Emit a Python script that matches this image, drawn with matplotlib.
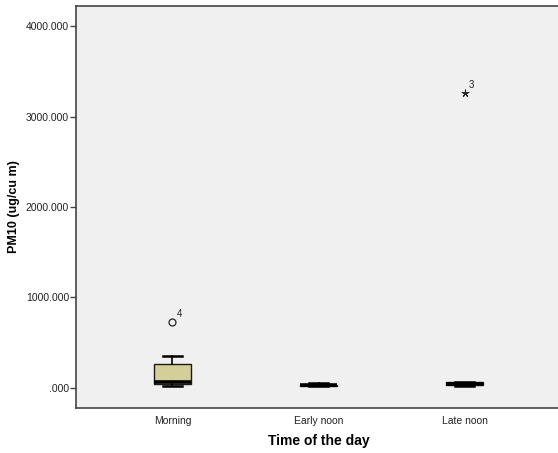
import matplotlib
matplotlib.use("Agg")
import matplotlib.pyplot as plt
from matplotlib.ticker import FuncFormatter

plt.rcParams['font.family'] = ['Liberation Sans', 'DejaVu Sans']

categories = ["Morning", "Early noon", "Late noon"]
whisker_low = [25, 20, 25]
q1 = [41, 25, 28]
median = [63, 32, 45]
q3 = [265, 38, 68]
whisker_high = [354, 50, 70]
outlier_vals = [[733], [], []]
outlier_ids = [["4"], [], []]
extreme_vals = [[], [], [3265]]
extreme_ids = [[], [], ["3"]]

fig = plt.figure(figsize=(5.58, 4.53), dpi=100)
fig.patch.set_facecolor("white")
ax = fig.add_axes([76 / 558, 1 - 408 / 453, (561 - 76) / 558, (408 - 6) / 453])
ax.set_facecolor("#F0F0F0")

stats = []
for i, name in enumerate(categories):
    stats.append(dict(label=name, whislo=whisker_low[i], q1=q1[i], med=median[i],
                      q3=q3[i], whishi=whisker_high[i], fliers=[]))

positions = list(range(len(categories)))
ax.bxp(stats, positions=positions, widths=0.25, patch_artist=True, showfliers=False,
       boxprops=dict(facecolor="#D4CF98", edgecolor="#1a1a1a", linewidth=1.0),
       medianprops=dict(color="black", linewidth=2.6),
       whiskerprops=dict(color="black", linewidth=1.2),
       capprops=dict(color="black", linewidth=1.8),
       capwidths=0.125)

for i in positions:
    for v, lab in zip(outlier_vals[i], outlier_ids[i]):
        ax.plot(i, v, marker="o", markersize=5, markerfacecolor="none",
                markeredgecolor="#222222", markeredgewidth=0.9, linestyle="none")
        ax.annotate(lab, (i, v), xytext=(3, 3), textcoords="offset points",
                    fontsize=7, color="#222222")
    for v, lab in zip(extreme_vals[i], extreme_ids[i]):
        ax.plot(i, v, marker=(5, 2, 0), markersize=5.5, markeredgewidth=0.8,
                color="#222222", linestyle="none")
        ax.annotate(lab, (i, v), xytext=(3, 3), textcoords="offset points",
                    fontsize=7, color="#222222")

ax.set_xlim(-0.66, 2.66)
ax.set_ylim(-221, 4221)
ax.set_yticks([0, 1000, 2000, 3000, 4000])
ax.yaxis.set_major_formatter(FuncFormatter(lambda v, p: ".000" if v == 0 else f"{v:.3f}"))
ax.set_xticks(positions)
ax.set_xticklabels(categories)
ax.tick_params(axis="y", direction="out", length=4, width=1, color="#444444",
               labelsize=7.5, labelcolor="#222222", pad=1)
ax.tick_params(axis="x", length=0, labelsize=7.5, labelcolor="#222222", pad=6)

for s in ax.spines.values():
    s.set_color("#444444")
    s.set_linewidth(1.2)

ax.set_ylabel("PM10 (ug/cu m)", fontsize=9, fontweight="bold", va="center")
ax.yaxis.set_label_coords(-0.128, 0.5)
ax.set_xlabel("Time of the day", fontsize=10, fontweight="bold")
ax.xaxis.set_label_coords(0.5, -0.065)

fig.savefig("out.png", dpi=100)
